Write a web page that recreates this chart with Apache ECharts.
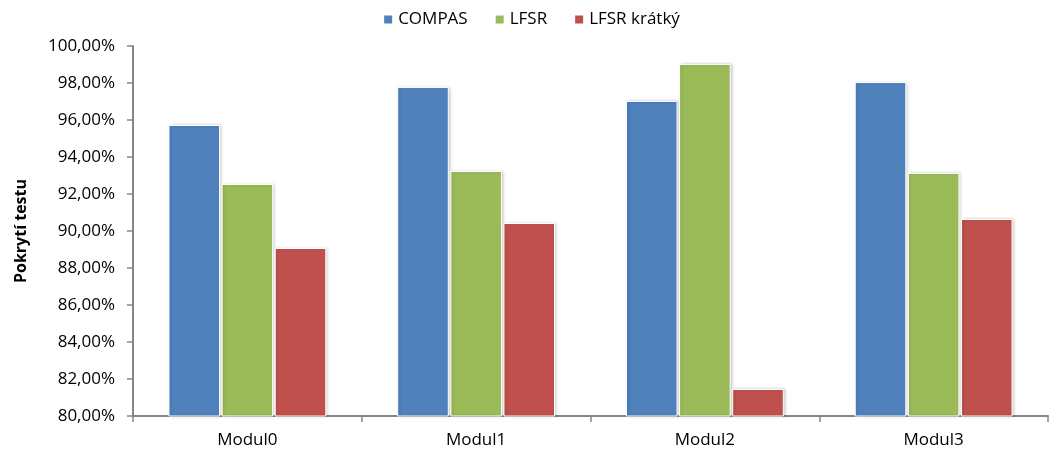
<!DOCTYPE html>
<html><head><meta charset="utf-8">
<script src="https://cdn.jsdelivr.net/npm/echarts@6/dist/echarts.min.js"></script>
<style>html,body{margin:0;padding:0;background:#fff}#c{width:1062px;height:452px}</style>
</head><body><div id="c"></div>
<script>
const categories = ['Modul0','Modul1','Modul2','Modul3'];
const compas = [95.73, 97.78, 97.03, 98.05];
const lfsr = [92.54, 93.24, 99.03, 93.14];
const lfsrShort = [89.08, 90.43, 81.46, 90.65];
const seriesNames = ['COMPAS','LFSR','LFSR krátký'];
const colors = ['#4F81BD','#9BBB59','#C0504D'];
const font = 'Open Sans';
const chart = echarts.init(document.getElementById('c'));
const mk = (name, data, color) => ({
  name, type:'bar', data, barGap:'3%', barCategoryGap:'31%',
  itemStyle:{color, borderColor:'#fff', borderWidth:1, shadowColor:'rgba(0,0,0,0.18)', shadowBlur:3, shadowOffsetX:1.5, shadowOffsetY:0}
});
chart.setOption({
  animation:false,
  legend:{top:6, left:'center', itemWidth:10, itemHeight:10, itemGap:26, icon:'rect',
    textStyle:{fontFamily:font, fontSize:17, color:'#000'}, data:seriesNames},
  grid:{left:133, right:14, top:46, bottom:36},
  xAxis:{type:'category', data:categories,
    axisLine:{lineStyle:{color:'#868686', width:2}},
    axisTick:{show:true, length:6, lineStyle:{color:'#868686', width:1.5}},
    axisLabel:{fontFamily:font, fontSize:17, color:'#000', margin:16}},
  yAxis:{type:'value', min:80, max:100, interval:2,
    name:'Pokrytí testu', nameLocation:'middle', nameGap:104, nameRotate:90,
    nameTextStyle:{fontFamily:font, fontSize:16, fontWeight:'bold', color:'#000'},
    axisLine:{show:true, lineStyle:{color:'#868686', width:2}},
    axisTick:{show:true, length:6, lineStyle:{color:'#868686', width:1.5}},
    splitLine:{show:false},
    axisLabel:{fontFamily:font, fontSize:17, color:'#000', margin:18,
      formatter:v=>v.toFixed(2).replace('.',',')+'%'}},
  series:[mk(seriesNames[0], compas, colors[0]), mk(seriesNames[1], lfsr, colors[1]), mk(seriesNames[2], lfsrShort, colors[2])]
});
</script></body></html>
